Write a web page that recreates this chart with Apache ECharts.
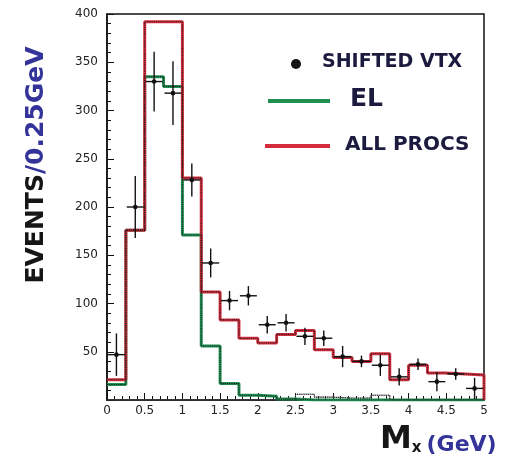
<!DOCTYPE html>
<html>
<head>
<meta charset="utf-8">
<script src="https://cdn.jsdelivr.net/npm/echarts@6/dist/echarts.min.js"></script>
<style>
  html, body { margin: 0; padding: 0; background: #fff; }
  #chart { width: 506px; height: 472px; }
</style>
</head>
<body>
<div id="chart"></div>
<script>
// bin lower edges, 0.25 GeV wide
const binStart = [0, 0.25, 0.5, 0.75, 1, 1.25, 1.5, 1.75, 2, 2.25,
                  2.5, 2.75, 3, 3.25, 3.5, 3.75, 4, 4.25, 4.5, 4.75];
const binWidth = 0.25;
const xMax = 5;

// All Procs (red)
const allProcs = [21, 176, 392, 392, 230, 112, 83, 64, 59, 68,
                  72, 52, 44, 40, 48, 21, 36, 28, 27, 26];
// EL (green)
const elVals = [16, 176, 335, 325, 171, 56, 17, 5, 4, 1,
                0, 0, 0, 0, 0, 0, 0, 0, 0, 0];
// small dotted contribution near zero
const otherVals = [0, 0, 0, 0, 0, 0, 0, 0, 0, 0,
                   6, 3, 2, 2, 5, 0, 0, 0, 0, 0];
// SHIFTED VTX data and errors
const dataVals = [47, 200, 330, 318, 228, 142, 103, 108, 78, 80,
                  66, 64, 45, 40, 36, 24, 37, 19, 27, 12];
const dataErr = [22, 32, 31, 33, 17, 15, 10, 10, 9, 9,
                 9, 8, 11, 6, 11, 9, 6, 10, 6, 11];

const xTicks = [0, 0.5, 1, 1.5, 2, 2.5, 3, 3.5, 4, 4.5, 5];
const yTicks = [50, 100, 150, 200, 250, 300, 350, 400];

// histogram as a step line: point at each lower edge, then close at xMax
function stepData(vals) {
  const d = binStart.map((x, i) => [x, vals[i]]);
  d.push([xMax, vals[vals.length - 1]]);
  d.push([xMax, 0]);
  return d;
}

function histSeries(vals, color, width) {
  return [
    {
      type: 'line', step: 'end', data: stepData(vals), symbol: 'none',
      lineStyle: { color: color, width: width }, z: 3, silent: true
    },
    {
      type: 'line', step: 'end', data: stepData(vals), symbol: 'none',
      lineStyle: { color: '#1a1a1a', width: 1.1, type: 'dotted' }, z: 4, silent: true
    }
  ];
}

const chart = echarts.init(document.getElementById('chart'));
const ink = '#1c1a3e';
const blueInk = '#33339a';

chart.setOption({
  animation: false,
  grid: { left: 107, right: 22, top: 14, bottom: 72, show: true, borderColor: '#111', borderWidth: 1.5 },
  xAxis: {
    type: 'value', min: 0, max: xMax, interval: 0.5,
    axisLine: { lineStyle: { color: '#111', width: 1.5 } },
    axisTick: { inside: true, length: 7, lineStyle: { color: '#111' } },
    minorTick: { show: true, splitNumber: 5, length: 4, lineStyle: { color: '#111' } },
    splitLine: { show: false },
    axisLabel: {
      color: '#222', fontSize: 12, fontFamily: 'DejaVu Sans', margin: 5,
      formatter: v => xTicks.indexOf(v) >= 0 ? String(v) : ''
    }
  },
  yAxis: {
    type: 'value', min: 0, max: 400, interval: 50,
    axisLine: { lineStyle: { color: '#111', width: 1.5 } },
    axisTick: { inside: true, length: 7, lineStyle: { color: '#111' } },
    minorTick: { show: true, splitNumber: 5, length: 4, lineStyle: { color: '#111' } },
    splitLine: { show: false },
    axisLabel: {
      color: '#222', fontSize: 12, fontFamily: 'DejaVu Sans', margin: 9,
      formatter: v => yTicks.indexOf(v) >= 0 ? String(v) : ''
    }
  },
  series: [
    ...histSeries(otherVals, '#777', 0.8),
    ...histSeries(elVals, '#1f8f52', 3),
    ...histSeries(allProcs, '#d42c3c', 3),
    {
      type: 'custom',
      z: 6,
      data: binStart.map((x, i) => [x, dataVals[i], dataErr[i]]),
      renderItem: function (params, api) {
        const xc = api.value(0) + binWidth / 2;
        const y = api.value(1);
        const e = api.value(2);
        const c = api.coord([xc, y]);
        const l = api.coord([xc - binWidth * 0.45, y]);
        const r = api.coord([xc + binWidth * 0.45, y]);
        const t = api.coord([xc, y + e]);
        const b = api.coord([xc, y - e]);
        const st = { stroke: '#111', lineWidth: 1.4 };
        return {
          type: 'group',
          children: [
            { type: 'line', shape: { x1: l[0], y1: l[1], x2: r[0], y2: r[1] }, style: st },
            { type: 'line', shape: { x1: t[0], y1: t[1], x2: b[0], y2: b[1] }, style: st },
            { type: 'circle', shape: { cx: c[0], cy: c[1], r: 2.3 }, style: { fill: '#111' } }
          ]
        };
      }
    }
  ],
  graphic: [
    // legend
    { type: 'circle', shape: { cx: 296, cy: 64, r: 5 }, style: { fill: '#161616' } },
    { type: 'text', left: 322, top: 53, style: { text: 'SHIFTED VTX', fill: ink, font: 'bold 19px "DejaVu Sans"' } },
    { type: 'line', shape: { x1: 268, y1: 101, x2: 330, y2: 101 }, style: { stroke: '#1f8f52', lineWidth: 4 } },
    { type: 'text', left: 350, top: 87, style: { text: 'EL', fill: ink, font: 'bold 25px "DejaVu Sans"' } },
    { type: 'line', shape: { x1: 265, y1: 146, x2: 330, y2: 146 }, style: { stroke: '#d42c3c', lineWidth: 4 } },
    { type: 'text', left: 345, top: 135, style: { text: 'ALL PROCS', fill: ink, font: 'bold 20px "DejaVu Sans"' } },
    // y axis title
    {
      type: 'text', x: 36, y: 165, rotation: Math.PI / 2,
      style: {
        text: '{a|EVENTS}{b|/0.25GeV}', align: 'center', verticalAlign: 'middle',
        rich: {
          a: { fill: '#161616', font: 'bold 25px "DejaVu Sans"' },
          b: { fill: blueInk, font: 'bold 25px "DejaVu Sans"' }
        }
      }
    },
    // x axis title
    {
      type: 'text', left: 380, top: 424,
      style: {
        text: '{m|M}{s|x}{g|(GeV)}',
        rich: {
          m: { fill: '#161616', font: 'bold 32px "DejaVu Sans"', verticalAlign: 'bottom' },
          s: { fill: '#161616', font: 'bold 15px "DejaVu Sans"', verticalAlign: 'bottom', padding: [0, 5, 0, 0] },
          g: { fill: blueInk, font: 'bold 22px "DejaVu Sans"', verticalAlign: 'bottom' }
        }
      }
    }
  ]
});
</script>
</body>
</html>
